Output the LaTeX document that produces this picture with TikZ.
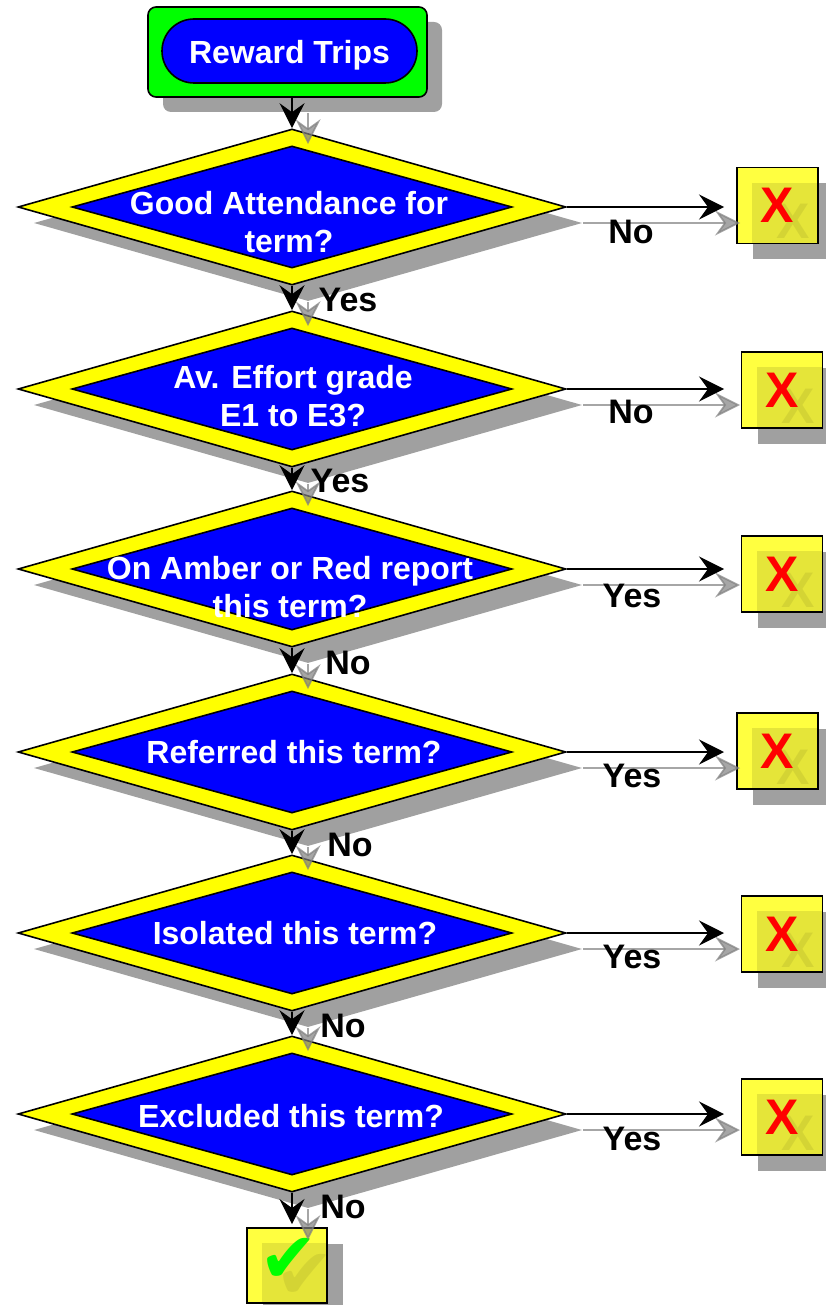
\documentclass[tikz,border=0pt]{standalone}
\usepackage{fontspec}
\setmainfont{Liberation Sans}
\newfontfamily\symfont{DejaVu Sans}
\usetikzlibrary{shapes.geometric,arrows.meta}
\definecolor{shd}{HTML}{A0A0A0}
\definecolor{boxyel}{HTML}{FFFF40}
\definecolor{qblue}{HTML}{0000FF}
\definecolor{qyel}{HTML}{FFFF00}
\definecolor{sgreen}{HTML}{00FF00}
\definecolor{xred}{HTML}{FF0000}
\tikzset{
  outerd/.style={diamond, draw=black, line width=1.6pt, fill=qyel, minimum width=548pt, minimum height=156pt, inner sep=0pt},
  innerd/.style={diamond, draw=black, line width=1.6pt, fill=qblue, minimum width=440pt, minimum height=122pt, inner sep=0pt},
  shadowd/.style={diamond, fill=shd, minimum width=548pt, minimum height=156pt, inner sep=0pt},
  qtext/.style={text=white, font=\fontsize{32}{38}\selectfont\bfseries, align=center, inner sep=0pt},
  lbl/.style={font=\fontsize{34}{40}\selectfont\bfseries, inner sep=0pt},
  resbox/.style={draw=black, line width=1.6pt, fill=boxyel, minimum width=81pt, minimum height=76pt, inner sep=0pt},
  xmark/.style={text=xred, font=\fontsize{50}{50}\selectfont\bfseries, inner sep=0pt},
  tickmark/.style={text=sgreen, font=\symfont\fontsize{70}{70}\selectfont, inner sep=0pt},
  conn/.style={-{Stealth[length=25pt,width=25pt,inset=9pt]}, line width=1.7pt, draw=black},
  sconn/.style={conn, draw=black!50, opacity=0.7, transform canvas={shift={(16pt,-16pt)}}},
}
\begin{document}
\begin{tikzpicture}[x=1pt,y=-1pt]
\useasboundingbox (0,0) rectangle (825,1305);
% start box
\node[fill=shd, rounded corners=8pt, minimum width=279pt, minimum height=90pt, inner sep=0pt] (starts) at (302.5,67) {};
\node[draw=black, line width=1.6pt, fill=sgreen, rounded corners=8pt, minimum width=279pt, minimum height=90pt, inner sep=0pt] (start) at (287.5,52) {};
\node[draw=black, line width=1.6pt, fill=qblue, rounded corners=32pt, minimum width=255pt, minimum height=64pt, inner sep=0pt] (title) at (289.5,51) {};
\node[qtext] (titletext) at (289.5,55) {Reward Trips};
% diamonds
\foreach \n/\cy in {1/207,2/389,3/569,4/752,5/933,6/1114}{
  \node[shadowd] (ds\n) at (308,\cy+16) {};
  \node[outerd] (d\n) at (292,\cy) {};
  \node[innerd] (di\n) at (292,\cy) {};
}
\node[qtext] (t1) at (289,222) {Good Attendance for\\term?};
\node[qtext] (t2) at (293,396) {Av. Effort grade\\E1 to E3?};
\node[qtext] (t3) at (290,587) {On Amber or Red report\\this term?};
\node[qtext] (t4) at (294,752) {Referred this term?};
\node[qtext] (t5) at (295,933) {Isolated this term?};
\node[qtext] (t6) at (291,1116) {Excluded this term?};
% result boxes
\foreach \n/\cx/\cy in {1/777.5/205.5,2/782/390,3/782/574,4/777.5/751,5/782/934,6/782/1117}{
  \node[resbox, draw=none, fill=shd] (xs\n) at (\cx+16,\cy+16) {};
  \node[resbox] (x\n) at (\cx,\cy) {};
  \fill[black, opacity=0.1] (xs\n.north west) rectangle (x\n.south east);
  \node[xmark, text=black, opacity=0.07] (xms\n) at (xs\n) {X};
  \node[xmark] (xm\n) at (x\n) {X};
}
% final tick box
\node[resbox, draw=none, fill=shd, minimum width=80pt, minimum height=75pt] (oks) at (303,1281.5) {};
\node[resbox, minimum width=80pt, minimum height=75pt] (ok) at (287,1265.5) {};
\fill[black, opacity=0.1] (oks.north west) rectangle (ok.south east);
\node[tickmark, text=black, opacity=0.07] (ticks) at (305,1276) {✔};
\node[tickmark] (tick) at (289,1260) {✔};
% connector end points
\foreach \n/\cy in {1/207,2/389,3/569,4/752,5/933,6/1114}{
  \coordinate (e\n) at (724,\cy);
}
\coordinate (top) at (292,97);
\coordinate (e7) at (292,1224);
% shadow connectors
\draw[sconn] (top) -- (d1.north);
\draw[sconn] (d1.south) -- (d2.north);
\draw[sconn] (d2.south) -- (d3.north);
\draw[sconn] (d3.south) -- (d4.north);
\draw[sconn] (d4.south) -- (d5.north);
\draw[sconn] (d5.south) -- (d6.north);
\draw[sconn] (d6.south) -- (e7);
\foreach \n in {1,...,6}{ \draw[sconn] (d\n.east) -- (e\n); }
% connectors
\draw[conn] (top) -- (d1.north);
\draw[conn] (d1.south) -- (d2.north);
\draw[conn] (d2.south) -- (d3.north);
\draw[conn] (d3.south) -- (d4.north);
\draw[conn] (d4.south) -- (d5.north);
\draw[conn] (d5.south) -- (d6.north);
\draw[conn] (d6.south) -- (e7);
\foreach \n in {1,...,6}{ \draw[conn] (d\n.east) -- (e\n); }
% labels
\node[lbl] (l1) at (348,300) {Yes};
\node[lbl] (l2) at (340,481) {Yes};
\node[lbl] (l3) at (348,663) {No};
\node[lbl] (l4) at (350,845) {No};
\node[lbl] (l5) at (343,1026) {No};
\node[lbl] (l6) at (343,1207) {No};
\node[lbl] (r1) at (631,232) {No};
\node[lbl] (r2) at (631,412) {No};
\node[lbl] (r3) at (632,596) {Yes};
\node[lbl] (r4) at (632,776) {Yes};
\node[lbl] (r5) at (632,957) {Yes};
\node[lbl] (r6) at (632,1139) {Yes};
\end{tikzpicture}
\end{document}
